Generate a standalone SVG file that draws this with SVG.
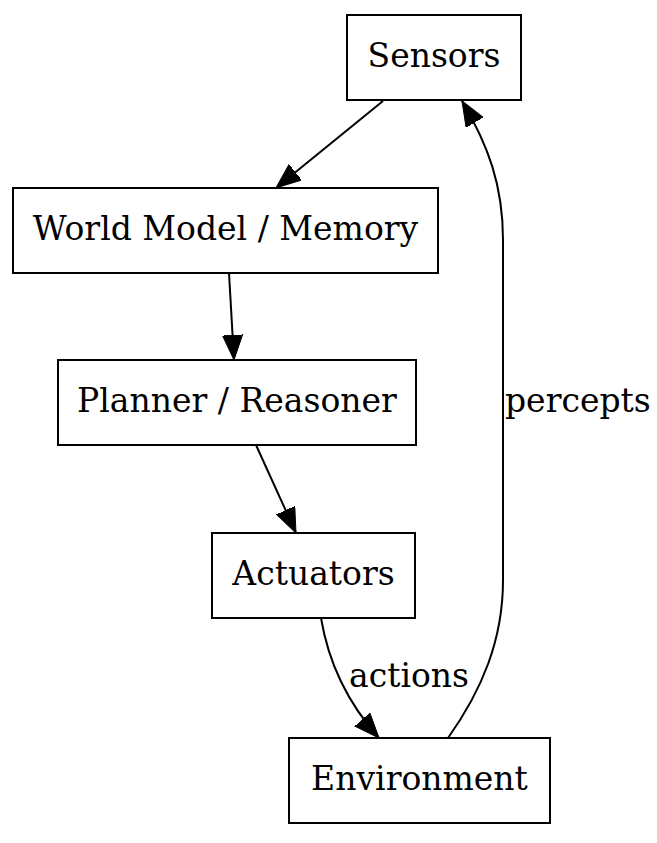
<svg xmlns="http://www.w3.org/2000/svg" width="657" height="843" viewBox="0 0 657 843">
<style>
.box{fill:#fff;stroke:#000;stroke-width:2}
.lbl{font-family:"DejaVu Serif","Liberation Serif",serif;font-size:33px;fill:#000;text-anchor:middle}
.elbl{font-family:"DejaVu Serif","Liberation Serif",serif;font-size:33px;fill:#000}
.edge{fill:none;stroke:#000;stroke-width:2;marker-end:url(#ah)}
</style>
<defs>
<marker id="ah" markerUnits="userSpaceOnUse" markerWidth="27" markerHeight="22" refX="25" refY="10" orient="auto">
<path d="M0,0 L25,10 L0,20 Z" fill="#000" stroke="#000" stroke-width="1"/>
</marker>
</defs>
<rect width="657" height="843" fill="#fff"/>
<g id="edges">
<path class="edge" d="M383,101 L276,188"/>
<path class="edge" d="M229,273 L234,360"/>
<path class="edge" d="M256,445 L296,533"/>
<path class="edge" d="M321,618 C328,660 345,700 379,738"/>
<path class="edge" d="M448,738 C482,690 503,640 503,580 L503,240 C503,185 488,145 462,101"/>
<text class="elbl" x="505" y="412">percepts</text>
<text class="elbl" x="349" y="687">actions</text>
</g>
<g id="sensors"><rect class="box" x="347" y="15" width="174" height="85"/><text class="lbl" x="434" y="67">Sensors</text></g>
<g id="world-model"><rect class="box" x="13" y="188" width="425" height="85"/><text class="lbl" x="225.5" y="240">World Model / Memory</text></g>
<g id="planner"><rect class="box" x="58" y="360" width="358" height="85"/><text class="lbl" x="237" y="412">Planner / Reasoner</text></g>
<g id="actuators"><rect class="box" x="212" y="533" width="203" height="85"/><text class="lbl" x="313.5" y="585">Actuators</text></g>
<g id="environment"><rect class="box" x="289" y="738" width="261" height="85"/><text class="lbl" x="419.5" y="790">Environment</text></g>
</svg>
